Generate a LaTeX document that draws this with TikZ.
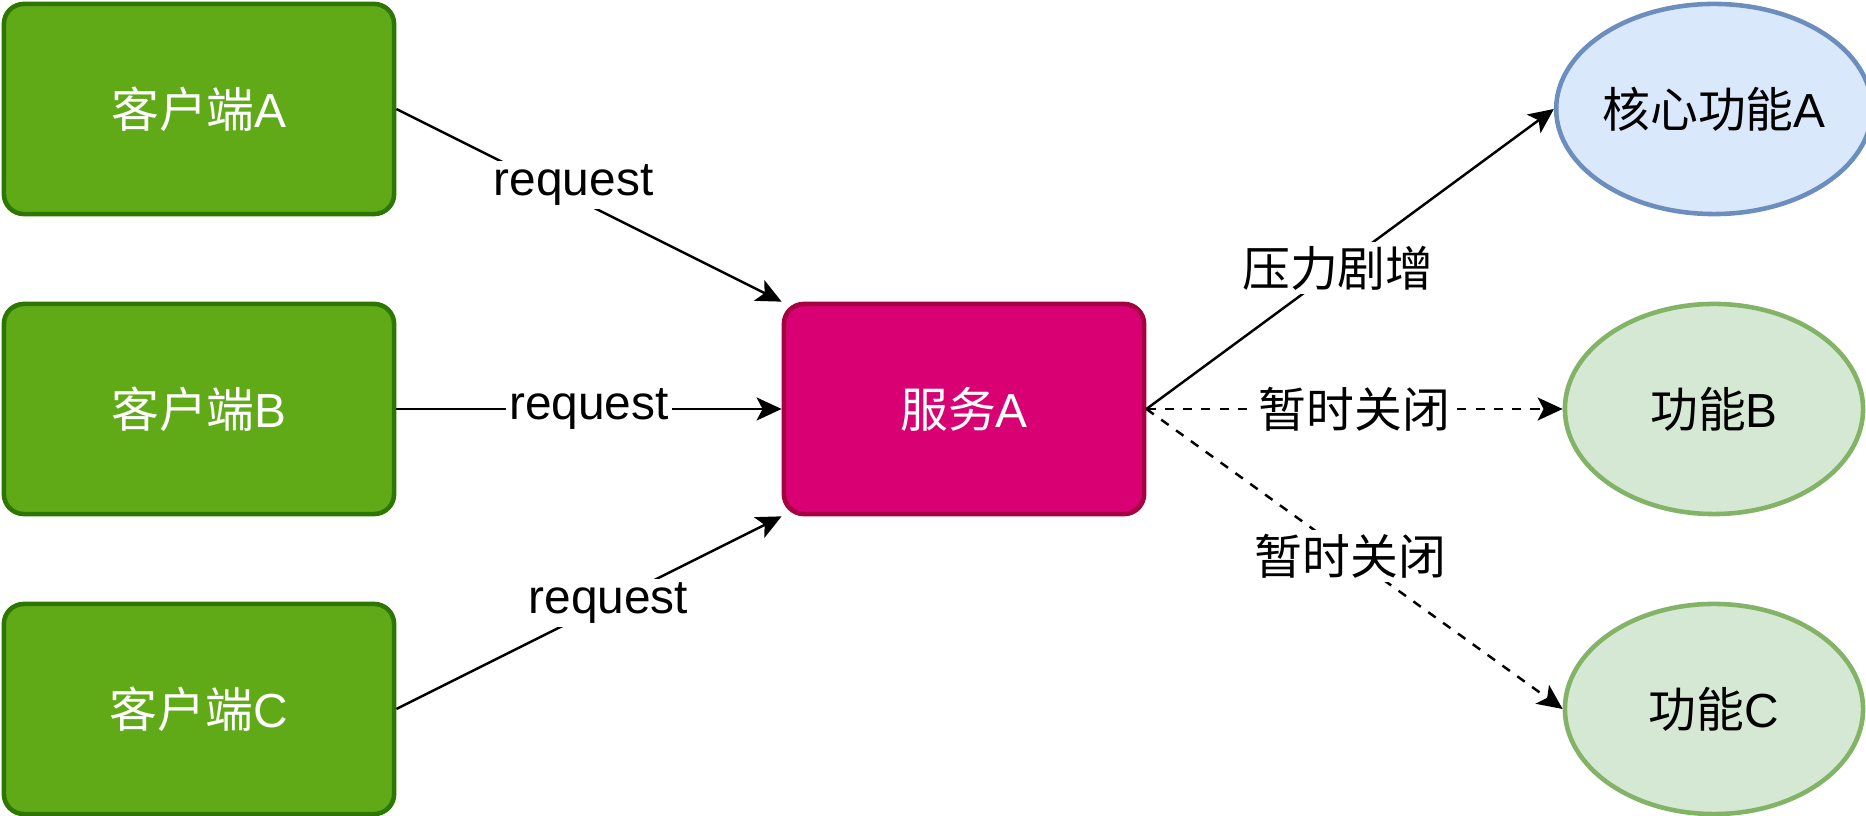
\documentclass[tikz,border=0pt]{standalone}
\usepackage{fontspec}
\setmainfont{Liberation Sans}
\newfontfamily\cjk{Noto Sans CJK SC}
\usetikzlibrary{shapes.geometric,arrows.meta}
\definecolor{clientfill}{HTML}{60A917}
\definecolor{clientline}{HTML}{2D7600}
\definecolor{servfill}{HTML}{D80073}
\definecolor{servline}{HTML}{A50040}
\definecolor{corefill}{HTML}{DAE8FC}
\definecolor{coreline}{HTML}{6C8EBF}
\definecolor{funcfill}{HTML}{D5E8D4}
\definecolor{funcline}{HTML}{82B366}
\newcommand{\zh}[1]{{\cjk #1}}
\tikzset{
  client/.style={draw=clientline, fill=clientfill, line width=1.3pt, rounded corners=0.2cm,
    minimum width=3.9cm, minimum height=2.1cm, text=white},
  service/.style={draw=servline, fill=servfill, line width=1.3pt, rounded corners=0.2cm,
    minimum width=3.6cm, minimum height=2.1cm, text=white},
  func/.style={ellipse, draw=funcline, fill=funcfill, line width=1.3pt, inner sep=0pt,
    minimum width=2.98cm, minimum height=2.1cm},
  core/.style={func, draw=coreline, fill=corefill},
  lbl/.style={fill=white, inner sep=1pt},
  link/.style={->, line width=0.7pt},
  off/.style={link, dash pattern=on 2.6pt off 2.6pt}
}
\begin{document}
\begin{tikzpicture}[x=0.01cm, y=-0.01cm, >={Stealth[length=0.25cm, width=0.23cm, inset=0.06cm]},
    font=\fontsize{13.6pt}{16pt}\selectfont]
        \useasboundingbox (0,0) rectangle (1866,816);
        % clients
        \node[client] (ca) at (199,109) {\zh{客户端}A};
        \node[client] (cb) at (199,409) {\zh{客户端}B};
        \node[client] (cc) at (199,709) {\zh{客户端}C};
        % service
        \node[service] (sa) at (964,409) {\zh{服务}A};
        % functions
        \node[core] (fa) at (1714,109) {\zh{核心功能}A};
        \node[func] (fb) at (1714,409) {\zh{功能}B};
        \node[func] (fc) at (1714,709) {\zh{功能}C};
        % requests
        \draw[link] (ca.east) -- (sa.north west) node[pos=0.46, lbl, yshift=0.13cm] {request};
        \draw[link] (cb.east) -- (sa.west) node[midway, lbl] {request};
        \draw[link] (cc.east) -- (sa.south west) node[pos=0.55, lbl] {request};
        % load
        \draw[link] (sa.east) -- (fa.west) node[pos=0.47, lbl] {\zh{压力剧增}};
        \draw[off] (sa.east) -- (fb.west) node[midway, lbl] {\zh{暂时关闭}};
        \draw[off] (sa.east) -- (fc.west) node[pos=0.49, lbl] {\zh{暂时关闭}};
\end{tikzpicture}
\end{document}
